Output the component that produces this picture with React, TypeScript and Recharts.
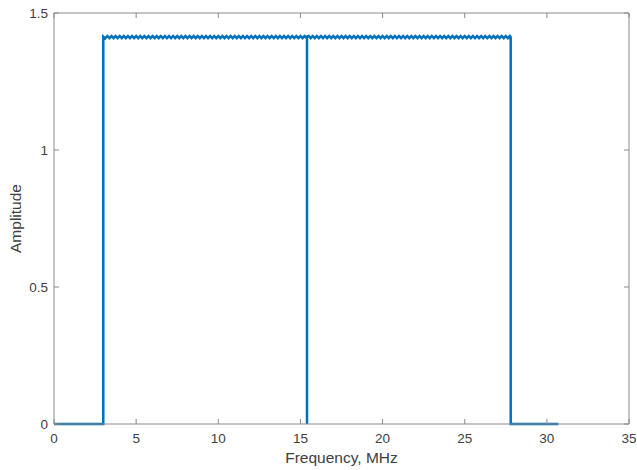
import { Label, Line, LineChart, XAxis, YAxis } from 'recharts';

const BLUE = '#0072BD';
const AXIS = '#8a8a8a';
const TEXT = '#404040';
const FONT = "'Liberation Sans', Arial, sans-serif";

const xTicks = [0, 5, 10, 15, 20, 25, 30, 35];
const yTicks = [0, 0.5, 1, 1.5];

// flat zero level before the first band
const leadFreq = [0, 3];
const leadAmp = [0, 0];

// first band, 3 to 15.4 MHz, with the small ripple on top
const band1Freq = [
  3, 3.125, 3.25, 3.375, 3.5, 3.625, 3.75, 3.875,
  4, 4.125, 4.25, 4.375, 4.5, 4.625, 4.75, 4.875,
  5, 5.125, 5.25, 5.375, 5.5, 5.625, 5.75, 5.875,
  6, 6.125, 6.25, 6.375, 6.5, 6.625, 6.75, 6.875,
  7, 7.125, 7.25, 7.375, 7.5, 7.625, 7.75, 7.875,
  8, 8.125, 8.25, 8.375, 8.5, 8.625, 8.75, 8.875,
  9, 9.125, 9.25, 9.375, 9.5, 9.625, 9.75, 9.875,
  10, 10.125, 10.25, 10.375, 10.5, 10.625, 10.75, 10.875,
  11, 11.125, 11.25, 11.375, 11.5, 11.625, 11.75, 11.875,
  12, 12.125, 12.25, 12.375, 12.5, 12.625, 12.75, 12.875,
  13, 13.125, 13.25, 13.375, 13.5, 13.625, 13.75, 13.875,
  14, 14.125, 14.25, 14.375, 14.5, 14.625, 14.75, 14.875,
  15, 15.125, 15.25, 15.375, 15.4,
];
const band1Amp = [
  1.414, 1.408, 1.416, 1.408, 1.416, 1.408, 1.416, 1.408,
  1.416, 1.408, 1.416, 1.408, 1.416, 1.408, 1.416, 1.408,
  1.416, 1.408, 1.416, 1.408, 1.416, 1.408, 1.416, 1.408,
  1.416, 1.408, 1.416, 1.408, 1.416, 1.408, 1.416, 1.408,
  1.416, 1.408, 1.416, 1.408, 1.416, 1.408, 1.416, 1.408,
  1.416, 1.408, 1.416, 1.408, 1.416, 1.408, 1.416, 1.408,
  1.416, 1.408, 1.416, 1.408, 1.416, 1.408, 1.416, 1.408,
  1.416, 1.408, 1.416, 1.408, 1.416, 1.408, 1.416, 1.408,
  1.416, 1.408, 1.416, 1.408, 1.416, 1.408, 1.416, 1.408,
  1.416, 1.408, 1.416, 1.408, 1.416, 1.408, 1.416, 1.408,
  1.416, 1.408, 1.416, 1.408, 1.416, 1.408, 1.416, 1.408,
  1.416, 1.408, 1.416, 1.408, 1.416, 1.408, 1.416, 1.408,
  1.416, 1.408, 1.416, 1.408, 1.414,
];

// the notch between the two bands
const notchFreq = [15.4];
const notchAmp = [0];

// second band, 15.4 to 27.8 MHz
const band2Freq = [
  15.4, 15.5, 15.625, 15.75, 15.875,
  16, 16.125, 16.25, 16.375, 16.5, 16.625, 16.75, 16.875,
  17, 17.125, 17.25, 17.375, 17.5, 17.625, 17.75, 17.875,
  18, 18.125, 18.25, 18.375, 18.5, 18.625, 18.75, 18.875,
  19, 19.125, 19.25, 19.375, 19.5, 19.625, 19.75, 19.875,
  20, 20.125, 20.25, 20.375, 20.5, 20.625, 20.75, 20.875,
  21, 21.125, 21.25, 21.375, 21.5, 21.625, 21.75, 21.875,
  22, 22.125, 22.25, 22.375, 22.5, 22.625, 22.75, 22.875,
  23, 23.125, 23.25, 23.375, 23.5, 23.625, 23.75, 23.875,
  24, 24.125, 24.25, 24.375, 24.5, 24.625, 24.75, 24.875,
  25, 25.125, 25.25, 25.375, 25.5, 25.625, 25.75, 25.875,
  26, 26.125, 26.25, 26.375, 26.5, 26.625, 26.75, 26.875,
  27, 27.125, 27.25, 27.375, 27.5, 27.625, 27.75, 27.8,
];
const band2Amp = [
  1.414, 1.416, 1.408, 1.416, 1.408,
  1.416, 1.408, 1.416, 1.408, 1.416, 1.408, 1.416, 1.408,
  1.416, 1.408, 1.416, 1.408, 1.416, 1.408, 1.416, 1.408,
  1.416, 1.408, 1.416, 1.408, 1.416, 1.408, 1.416, 1.408,
  1.416, 1.408, 1.416, 1.408, 1.416, 1.408, 1.416, 1.408,
  1.416, 1.408, 1.416, 1.408, 1.416, 1.408, 1.416, 1.408,
  1.416, 1.408, 1.416, 1.408, 1.416, 1.408, 1.416, 1.408,
  1.416, 1.408, 1.416, 1.408, 1.416, 1.408, 1.416, 1.408,
  1.416, 1.408, 1.416, 1.408, 1.416, 1.408, 1.416, 1.408,
  1.416, 1.408, 1.416, 1.408, 1.416, 1.408, 1.416, 1.408,
  1.416, 1.408, 1.416, 1.408, 1.416, 1.408, 1.416, 1.408,
  1.416, 1.408, 1.416, 1.408, 1.416, 1.408, 1.416, 1.408,
  1.416, 1.408, 1.416, 1.408, 1.416, 1.408, 1.416, 1.412,
];

// drop back to zero and the tail
const tailFreq = [27.8, 30.7];
const tailAmp = [0, 0];

const freqs = [...leadFreq, ...band1Freq, ...notchFreq, ...band2Freq, ...tailFreq];
const amps = [...leadAmp, ...band1Amp, ...notchAmp, ...band2Amp, ...tailAmp];
const data = freqs.map((f, i) => ({ f, a: amps[i] }));

const tickStyle = { fontFamily: FONT, fontSize: 13.5, fill: TEXT };
const blank = () => '';

export default function App() {
  return (
    <div style={{ position: 'absolute', left: 0, top: 0, background: '#fff' }}>
      <LineChart
        width={637}
        height={470}
        data={data}
        margin={{ top: 12, right: 7, bottom: 0, left: 0 }}
      >
        <XAxis
          dataKey="f"
          type="number"
          domain={[0, 35]}
          ticks={xTicks}
          height={46}
          stroke={AXIS}
          tickSize={-5}
          tickMargin={14}
          tick={tickStyle}
          interval={0}
        >
          <Label
            content={({ viewBox }: any) => (
              <text
                x={viewBox.x + viewBox.width / 2}
                y={viewBox.y + 39}
                textAnchor="middle"
                fontFamily={FONT}
                fontSize={15.5}
                fill={TEXT}
              >
                Frequency, MHz
              </text>
            )}
          />
        </XAxis>
        <XAxis
          xAxisId="top"
          dataKey="f"
          orientation="top"
          type="number"
          domain={[0, 35]}
          ticks={xTicks}
          height={1}
          stroke={AXIS}
          tickSize={-5}
          tickFormatter={blank}
          interval={0}
        />
        <YAxis
          type="number"
          domain={[0, 1.5]}
          ticks={yTicks}
          width={54}
          stroke={AXIS}
          tickSize={-5}
          tickMargin={11}
          tick={tickStyle}
          interval={0}
        >
          <Label
            content={({ viewBox }: any) => {
              const cx = 21;
              const cy = viewBox.y + viewBox.height / 2;
              return (
                <text
                  x={cx}
                  y={cy}
                  transform={`rotate(-90 ${cx} ${cy})`}
                  textAnchor="middle"
                  fontFamily={FONT}
                  fontSize={15.5}
                  fill={TEXT}
                >
                  Amplitude
                </text>
              );
            }}
          />
        </YAxis>
        <YAxis
          yAxisId="right"
          orientation="right"
          type="number"
          domain={[0, 1.5]}
          ticks={yTicks}
          width={1}
          stroke={AXIS}
          tickSize={-5}
          tickFormatter={blank}
          interval={0}
        />
        {/* invisible twin so the top and right box axes get drawn */}
        <Line
          xAxisId="top"
          yAxisId="right"
          type="linear"
          dataKey="a"
          stroke="none"
          dot={false}
          activeDot={false}
          legendType="none"
          isAnimationActive={false}
        />
        <Line
          type="linear"
          dataKey="a"
          stroke={BLUE}
          strokeWidth={2.5}
          dot={false}
          activeDot={false}
          isAnimationActive={false}
        />
      </LineChart>
    </div>
  );
}
